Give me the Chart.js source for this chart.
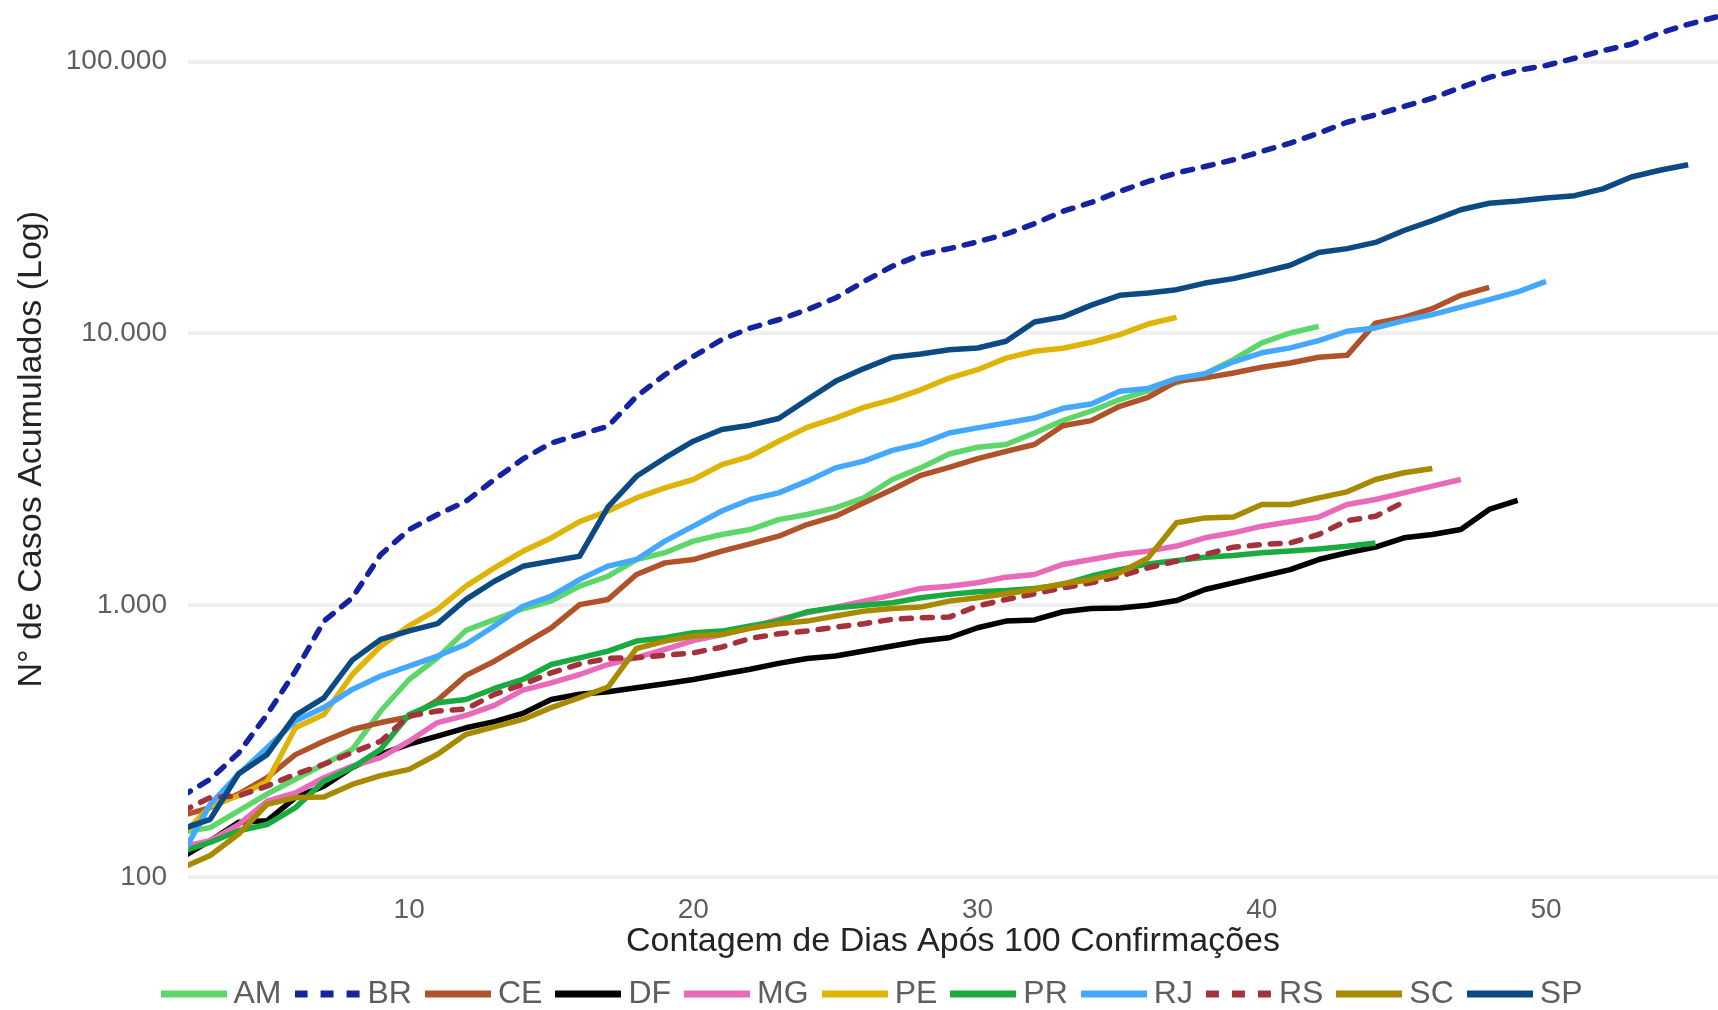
<!DOCTYPE html>
<html lang="pt-BR">
<head>
<meta charset="utf-8">
<title>Casos acumulados por estado</title>
<script src="https://cdn.jsdelivr.net/npm/chart.js@4/dist/chart.umd.min.js"></script>
<style>
  html, body { margin: 0; padding: 0; background: #ffffff; }
  #wrap { width: 1718px; height: 1010px; position: relative; }
</style>
</head>
<body>
<div id="wrap"><canvas id="casosChart"></canvas></div>
<script>
// dias contados a partir de 100 confirmações
const dias = [2, 3, 4, 5, 6, 7, 8, 9, 10, 11, 12, 13, 14, 15, 16, 17, 18, 19, 20, 21, 22, 23, 24, 25, 26, 27, 28, 29,
  30, 31, 32, 33, 34, 35, 36, 37, 38, 39, 40, 41, 42, 43, 44, 45, 46, 47, 48, 49, 50, 51, 52, 53, 54, 55, 56];

const ticksX = [10, 20, 30, 40, 50];
const ticksY = [100, 1000, 10000, 100000];

const estados = ["AM", "BR", "CE", "DF", "MG", "PE", "PR", "RJ", "RS", "SC", "SP"];
const cores = ["#5dd66a", "#15239e", "#b0532a", "#000000", "#e86ab8", "#deb406", "#1aab40", "#45a8ff", "#a3323c", "#a88a00", "#0b4a82"];
const tracejados = ["BR", "RS"];

const AM = [146, 152, 175, 202, 229, 260, 295, 408, 533, 641, 808, 885, 970, 1035, 1175, 1278, 1472, 1560, 1720, 1820,
  1898, 2065, 2156, 2280, 2484, 2900, 3200, 3600, 3810, 3900, 4300, 4780, 5180, 5710, 6160, 6580, 7100, 8000, 9220,
  10030, 10610];
const BR = [198, 229, 286, 396, 572, 873, 1064, 1535, 1897, 2155, 2410, 2900, 3450, 3950, 4245, 4550, 5865, 7040, 8225,
  9480, 10460, 11220, 12210, 13490, 15520, 17650, 19480, 20500, 21700, 23200, 25300, 28100, 30300, 33300, 36200, 38900,
  41100, 43500, 46700, 50100, 54500, 59800, 63700, 68300, 73300, 80300, 87400, 92700, 96700, 102800, 109600, 115800,
  127300, 137000, 146000];
const CE = [168, 180, 202, 232, 282, 316, 349, 370, 388, 447, 552, 622, 716, 826, 1005, 1050, 1297, 1431, 1472, 1580,
  1681, 1794, 1980, 2125, 2380, 2663, 3005, 3215, 3460, 3680, 3900, 4570, 4775, 5390, 5820, 6660, 6860, 7150, 7500,
  7780, 8170, 8300, 10910, 11450, 12330, 13800, 14760];
const DF = [118, 136, 159, 161, 196, 216, 253, 283, 308, 330, 354, 373, 400, 450, 470, 480, 497, 514, 533, 557, 581, 611,
  637, 650, 678, 708, 738, 759, 826, 874, 883, 946, 973, 977, 1000, 1040, 1142, 1208, 1278, 1352, 1472, 1559, 1635,
  1770, 1820, 1898, 2250, 2430];
const MG = [129, 136, 156, 190, 204, 232, 256, 275, 316, 370, 393, 428, 487, 518, 556, 605, 641, 688, 741, 780, 826, 887,
  938, 984, 1035, 1089, 1153, 1175, 1209, 1268, 1297, 1412, 1473, 1537, 1581, 1650, 1770, 1846, 1953, 2027, 2109, 2346,
  2449, 2590, 2740, 2900];
const PE = [142, 182, 199, 224, 354, 396, 556, 706, 840, 965, 1175, 1372, 1578, 1767, 2030, 2220, 2480, 2700, 2900, 3290,
  3530, 4010, 4510, 4880, 5340, 5700, 6200, 6850, 7350, 8110, 8590, 8810, 9270, 9890, 10820, 11450];
const PR = [124, 134, 148, 156, 180, 225, 253, 295, 396, 438, 450, 494, 533, 605, 640, 678, 738, 759, 792, 803, 838, 874,
  946, 979, 1000, 1021, 1065, 1096, 1120, 1133, 1153, 1192, 1280, 1352, 1419, 1460, 1502, 1523, 1559, 1581, 1611, 1648,
  1695];
const RJ = [120, 185, 239, 299, 375, 420, 490, 549, 597, 650, 718, 838, 991, 1080, 1242, 1393, 1472, 1720, 1953, 2220,
  2449, 2590, 2860, 3200, 3390, 3710, 3920, 4300, 4490, 4680, 4880, 5300, 5500, 6120, 6270, 6820, 7100, 7860, 8480,
  8840, 9400, 10180, 10470, 11140, 11720, 12480, 13310, 14200, 15530];
const RS = [174, 196, 199, 216, 239, 260, 287, 316, 391, 408, 415, 470, 511, 564, 608, 637, 641, 654, 668, 701, 755, 785,
  803, 830, 855, 887, 899, 904, 993, 1050, 1101, 1158, 1209, 1278, 1373, 1452, 1537, 1635, 1671, 1695, 1820, 2047, 2124,
  2397];
const SC = [108, 120, 144, 185, 196, 197, 219, 236, 249, 283, 335, 357, 380, 420, 457, 500, 693, 738, 770, 780, 822, 855,
  874, 912, 951, 973, 984, 1035, 1065, 1101, 1142, 1199, 1244, 1316, 1493, 2010, 2095, 2109, 2346, 2346, 2483, 2612,
  2900, 3070, 3185];
const SP = [150, 163, 240, 282, 393, 456, 628, 748, 805, 855, 1050, 1225, 1390, 1452, 1514, 2300, 2980, 3480, 4010, 4430,
  4595, 4860, 5700, 6660, 7420, 8170, 8400, 8710, 8830, 9350, 11010, 11500, 12700, 13800, 14070, 14480, 15310, 15900,
  16800, 17800, 19850, 20500, 21600, 23900, 25970, 28500, 30100, 30700, 31500, 32100, 34000, 37600, 39800, 41700];

const series = [AM, BR, CE, DF, MG, PE, PR, RJ, RS, SC, SP];

Chart.defaults.font.family = "'Liberation Sans', Arial, sans-serif";

// formata 100000 -> 100.000
function milhar(v) {
  return String(v).replace(/\B(?=(\d{3})+(?!\d))/g, ".");
}

// small line glyph used as the legend symbol
function simboloLinha(cor, dashed) {
  const c = document.createElement("canvas");
  c.width = 66;
  c.height = 8;
  const g = c.getContext("2d");
  g.strokeStyle = cor;
  g.lineWidth = 7;
  g.lineCap = "butt";
  g.setLineDash(dashed ? [13, 13] : []);
  g.beginPath();
  g.moveTo(0, 4);
  g.lineTo(66, 4);
  g.stroke();
  return c;
}

const datasets = estados.map((uf, i) => {
  const dashed = tracejados.includes(uf);
  return {
    label: uf,
    data: series[i].map((v, j) => ({ x: dias[j], y: v })),
    borderColor: cores[i],
    backgroundColor: cores[i],
    borderWidth: 5.5,
    borderDash: dashed ? [10, 11] : [],
    borderCapStyle: dashed ? "round" : "butt",
    borderJoinStyle: "round",
    pointRadius: 0,
    pointHoverRadius: 0,
    tension: 0,
    fill: false,
    clip: 0,
    order: estados.length - i   // later series drawn on top
  };
});

// legend: shorter box, pinned near the bottom edge, nudged right like the original
const legendFix = {
  id: "legendFix",
  beforeLayout(chart) {
    const lg = chart.legend;
    if (lg && !lg._fixed) {
      const fit = lg.fit.bind(lg);
      lg.fit = function () { fit(); this.height = 34.5; };
      lg._fixed = true;
    }
  },
  afterLayout(chart) {
    const lg = chart.legend;
    if (lg) {
      lg.left += 17;
      lg.right += 17;
      lg.top -= 19.5;   // bottom stays at the canvas edge so nothing is clipped
    }
  }
};

new Chart(document.getElementById("casosChart"), {
  type: "line",
  data: { datasets: datasets },
  plugins: [legendFix],
  options: {
    responsive: true,
    maintainAspectRatio: false,
    animation: false,
    layout: { padding: { top: 5, left: 0, right: 0, bottom: 0 } },
    plugins: {
      tooltip: { enabled: false },
      legend: {
        position: "bottom",
        align: "center",
        labels: {
          usePointStyle: true,
          pointStyleWidth: 48,
          boxHeight: 32,
          padding: 22,
          color: "#605e5c",
          font: { size: 32 },
          generateLabels(chart) {
            const items = Chart.defaults.plugins.legend.labels.generateLabels(chart);
            items.forEach(it => {
              const uf = estados[it.datasetIndex];
              it.pointStyle = simboloLinha(cores[it.datasetIndex], tracejados.includes(uf));
              it.lineWidth = 0;
            });
            return items.sort((a, b) => a.datasetIndex - b.datasetIndex);
          }
        }
      }
    },
    scales: {
      x: {
        type: "linear",
        min: 2.22,
        max: 56.05,
        grid: { display: false, drawTicks: false },
        border: { display: false },
        afterBuildTicks(scale) { scale.ticks = ticksX.map(v => ({ value: v })); },
        afterFit(scale) {
          scale.height = 82;
          scale.paddingLeft = 0;
          scale.paddingRight = 0;
        },
        ticks: { color: "#605e5c", font: { size: 28 }, padding: 0, maxRotation: 0 },
        title: {
          display: true,
          text: "Contagem de Dias Após 100 Confirmações",
          color: "#252423",
          font: { size: 34 },
          padding: { top: 0, bottom: 13 }
        }
      },
      y: {
        type: "logarithmic",
        min: 86.98,
        max: 161400,
        grid: { color: "#f0f0f0", lineWidth: 4, drawTicks: false },
        border: { display: false },
        afterBuildTicks(scale) { scale.ticks = ticksY.map(v => ({ value: v })); },
        afterFit(scale) {
          scale.width = 188;
          scale.paddingTop = 0;
          scale.paddingBottom = 0;
        },
        ticks: {
          color: "#605e5c",
          font: { size: 28 },
          padding: 21,
          callback: (v) => milhar(v)
        },
        title: {
          display: true,
          text: "N° de Casos Acumulados (Log)",
          color: "#252423",
          font: { size: 34 },
          padding: { top: 11, bottom: 0 }
        }
      }
    }
  }
});
</script>
</body>
</html>
